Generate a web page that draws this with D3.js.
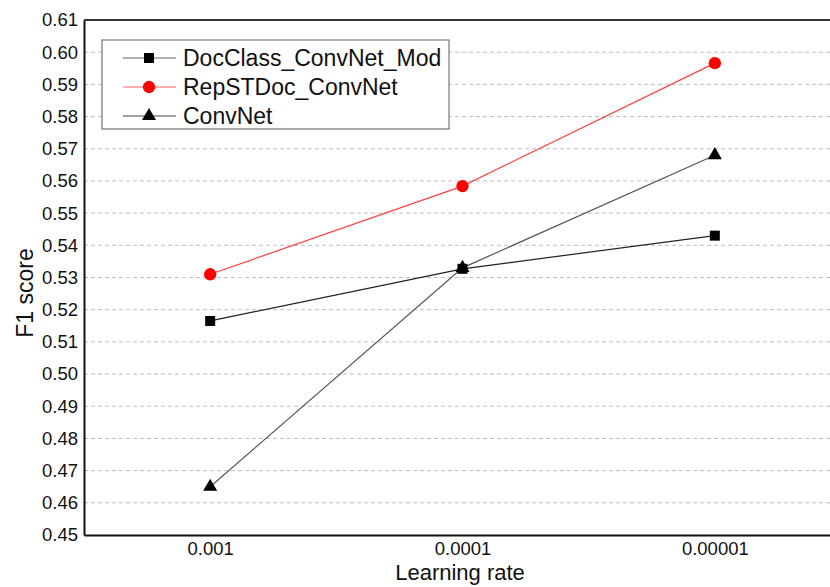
<!DOCTYPE html>
<html>
<head>
<meta charset="utf-8">
<script src="https://cdn.jsdelivr.net/npm/d3@7"></script>
<style>
  body { margin: 0; background: #fff; }
  text { font-family: "Liberation Sans", Arial, sans-serif; fill: #111; }
  .grid line { stroke: #bdbdbd; stroke-dasharray: 4 3; stroke-width: 1; }
</style>
</head>
<body>
<div class="chart"></div>
<script>
// Data
const rates = ['0.001', '0.0001', '0.00001']
const docClass = [0.5165, 0.5327, 0.543]
const repST = [0.531, 0.5584, 0.5966]
const convNet = [0.465, 0.533, 0.568]
const yTicks = d3.range(0.45, 0.6101, 0.01)

const series = [
  { name: 'DocClass_ConvNet_Mod', values: docClass, color: '#222', legendColor: '#666', symbol: d3.symbolSquare, size: 100, fill: '#000' },
  { name: 'RepSTDoc_ConvNet', values: repST, color: '#ff4040', legendColor: '#ff6060', symbol: d3.symbolCircle, size: 120, fill: '#ff0000' },
  { name: 'ConvNet', values: convNet, color: '#555', legendColor: '#444', symbol: d3.symbolTriangle, size: 85, fill: '#000' }
]

const dims = { width: 830, height: 587, left: 84, right: 841, top: 20, bottom: 535 }

const xScale = d3.scalePoint()
  .domain(rates)
  .range([dims.left, dims.right])
  .padding(0.5)

const yScale = d3.scaleLinear()
  .domain([0.45, 0.61])
  .range([dims.bottom, dims.top])

const svg = d3.select('.chart')
  .append('svg')
  .attr('width', dims.width)
  .attr('height', dims.height)

// grid
svg.append('g')
  .classed('grid', true)
  .selectAll('line')
  .data(yTicks.slice(1, -1))
  .join('line')
  .attr('x1', dims.left)
  .attr('x2', dims.right)
  .attr('y1', d => yScale(d))
  .attr('y2', d => yScale(d))

// frame
svg.append('line')
  .attr('x1', dims.left).attr('x2', dims.right)
  .attr('y1', dims.top).attr('y2', dims.top)
  .attr('stroke', '#333').attr('stroke-width', 2)

// y axis
const yAxis = d3.axisLeft(yScale)
  .tickValues(yTicks)
  .tickFormat(d3.format('.2f'))
  .tickSize(0)
  .tickPadding(6)
const yAxisGroup = svg.append('g')
  .attr('transform', `translate(${dims.left},0)`)
  .call(yAxis)
yAxisGroup.select('.domain').attr('stroke', '#111').attr('stroke-width', 2)
yAxisGroup.selectAll('text').style('font-size', '18.5px').attr('fill', '#111')

// x axis
const xAxis = d3.axisBottom(xScale).tickSize(0).tickPadding(7)
const xAxisGroup = svg.append('g')
  .attr('transform', `translate(0,${dims.bottom})`)
  .call(xAxis)
xAxisGroup.select('.domain').attr('stroke', '#111').attr('stroke-width', 2)
xAxisGroup.selectAll('text').style('font-size', '18.5px').attr('fill', '#111')

// labels
svg.append('text')
  .text('Learning rate')
  .attr('text-anchor', 'middle')
  .attr('x', 460)
  .attr('y', 580)
  .style('font-size', '22px')

svg.append('text')
  .text('F1 score')
  .attr('text-anchor', 'middle')
  .attr('transform', 'translate(33,293) rotate(-90)')
  .style('font-size', '23px')

// lines
const lineGen = d3.line()
  .x((d, i) => xScale(rates[i]))
  .y(d => yScale(d))

series.forEach(s => {
  svg.append('path')
    .datum(s.values)
    .attr('d', lineGen)
    .attr('fill', 'none')
    .attr('stroke', s.color)
    .attr('stroke-width', 1.2)
})

series.forEach(s => {
  svg.append('g')
    .selectAll('path')
    .data(s.values)
    .join('path')
    .attr('transform', (d, i) => `translate(${xScale(rates[i])},${yScale(d)})`)
    .attr('d', d3.symbol().type(s.symbol).size(s.size))
    .attr('fill', s.fill)
})

// legend
const legend = svg.append('g').attr('transform', 'translate(102,40)')
legend.append('rect')
  .attr('width', 347).attr('height', 89)
  .attr('fill', '#fff').attr('stroke', '#777').attr('stroke-width', 1.2)

series.forEach((s, i) => {
  const y = 18 + i * 29
  const row = legend.append('g').attr('transform', `translate(0,${y})`)
  row.append('line')
    .attr('x1', 21).attr('x2', 74)
    .attr('stroke', s.legendColor).attr('stroke-width', 1.2)
  row.append('path')
    .attr('transform', 'translate(47,0)')
    .attr('d', d3.symbol().type(s.symbol).size(s.size))
    .attr('fill', s.fill)
  row.append('text')
    .text(s.name)
    .attr('x', 81)
    .attr('dy', '0.35em')
    .style('font-size', '23px')
})
</script>
</body>
</html>
